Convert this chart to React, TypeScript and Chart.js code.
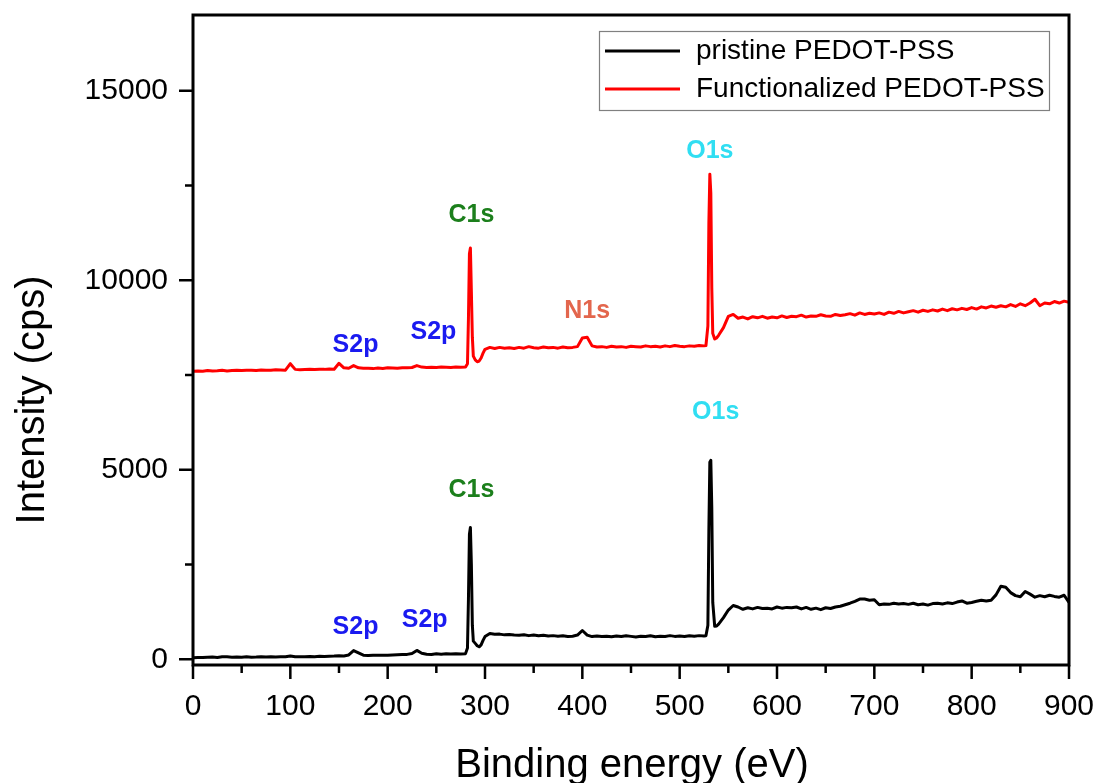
import React, { useEffect, useRef } from 'react';
import { Chart, registerables } from 'chart.js';

Chart.register(...registerables);

// Binding energy grid (eV)
const energy = [
  0, 5, 10, 15, 20, 25, 30, 35, 40, 45,
  50, 55, 60, 65, 70, 75, 80, 85, 90, 95,
  100, 105, 110, 115, 120, 125, 130, 135, 140, 145,
  150, 155, 160, 165, 170, 175, 180, 185, 190, 195,
  200, 205, 210, 215, 220, 225, 230, 235, 240, 245,
  250, 255, 260, 265, 270, 275, 280,
  282, 283, 284, 285, 286, 287, 288, 290, 292, 294, 296, 298, 300,
  305, 310, 315, 320, 325, 330, 335, 340, 345, 350,
  355, 360, 365, 370, 375, 380, 385, 390, 395, 400,
  405, 410, 415, 420, 425, 430, 435, 440, 445, 450,
  455, 460, 465, 470, 475, 480, 485, 490, 495, 500,
  505, 510, 515, 520, 525,
  527, 529, 530, 531, 532, 533, 534, 536, 538, 540,
  545, 550, 555, 560, 565, 570, 575, 580, 585, 590,
  595, 600, 605, 610, 615, 620, 625, 630, 635, 640,
  645, 650, 655, 660, 665, 670, 675, 680, 685, 690,
  695, 700, 705, 710, 715, 720, 725, 730, 735, 740,
  745, 750, 755, 760, 765, 770, 775, 780, 785, 790,
  795, 800, 805, 810, 815, 820, 825, 830, 835, 840,
  845, 850, 855, 860, 865, 870, 875, 880, 885, 890,
  895, 900,
];

// pristine PEDOT-PSS intensity (cps)
const pristine = [
  40, 50, 45, 55, 60, 50, 70, 65, 55, 60,
  55, 65, 55, 60, 70, 60, 65, 60, 70, 65,
  85, 65, 70, 65, 75, 70, 80, 75, 80, 85,
  95, 90, 115, 230, 170, 110, 100, 110, 105, 110,
  105, 115, 120, 125, 130, 155, 235, 160, 135, 130,
  145, 135, 145, 140, 150, 140, 150,
  300, 1600, 3300, 3480, 2500, 900, 480, 420, 360, 330, 380, 500, 600,
  680, 660, 665, 645, 655, 640, 635, 650, 625, 640,
  620, 635, 615, 625, 610, 620, 600, 610, 640, 760,
  640, 600, 615, 600, 610, 595, 615, 600, 620, 605,
  590, 610, 600, 620, 595, 610, 600, 625, 605, 615,
  600, 620, 610, 625, 615,
  620, 900, 3400, 5200, 5250, 4000, 1500, 870, 880, 930,
  1100, 1300, 1420, 1380, 1320, 1360, 1330, 1370, 1340, 1350,
  1330, 1380, 1350, 1370, 1360, 1380, 1330, 1370, 1320, 1350,
  1310, 1360, 1340, 1380, 1400, 1440, 1480, 1530, 1590, 1590,
  1560, 1570, 1440, 1460, 1450, 1480, 1460, 1470, 1450, 1480,
  1440, 1460, 1430, 1470, 1480, 1460, 1490, 1470, 1510, 1540,
  1480, 1500, 1530, 1560, 1540, 1560, 1700, 1930, 1900, 1760,
  1680, 1650, 1790, 1720, 1640, 1680, 1650, 1690, 1660, 1640,
  1690, 1500,
];

// Functionalized PEDOT-PSS intensity (cps)
const functionalized = [
  7600, 7610, 7600, 7620, 7610, 7615, 7625, 7610, 7620, 7630,
  7620, 7625, 7630, 7620, 7635, 7630, 7625, 7640, 7635, 7630,
  7800, 7650, 7640, 7645, 7650, 7645, 7655, 7650, 7660, 7655,
  7810, 7690, 7680, 7750, 7690, 7680, 7680, 7670, 7685, 7675,
  7690, 7685, 7680, 7695, 7690, 7700, 7750, 7710, 7700, 7705,
  7700, 7710, 7705, 7700, 7710, 7705, 7710,
  7800, 9000, 10700, 10850, 9700, 8500, 8000, 7900, 7850, 7870, 7950, 8080, 8180,
  8230, 8200, 8230, 8210, 8220, 8200, 8230, 8210, 8250, 8220,
  8210, 8240, 8220, 8230, 8210, 8240, 8220, 8230, 8250, 8480,
  8500, 8270, 8240, 8250, 8230, 8260, 8240, 8250, 8230, 8260,
  8250, 8240, 8270, 8250, 8260, 8240, 8270, 8250, 8280, 8260,
  8250, 8270, 8260, 8280, 8270,
  8280, 8800, 11500, 12800, 12300, 9800, 8600, 8450, 8480, 8550,
  8750, 9050, 9100, 9000, 9030, 8980, 9040, 9010, 9050, 9000,
  9030, 9010, 9060, 9020, 9050, 9040, 9080, 9030, 9060, 9050,
  9090, 9060, 9050, 9100, 9070, 9090, 9120, 9080, 9140, 9100,
  9130, 9110, 9140, 9100, 9160, 9130, 9180, 9140, 9170, 9200,
  9160, 9210, 9180, 9220, 9190, 9240, 9200, 9250, 9220, 9260,
  9230, 9280, 9240, 9300, 9270, 9320, 9290, 9330, 9300, 9360,
  9310, 9380, 9330, 9400, 9500, 9330, 9400, 9380, 9440, 9400,
  9450, 9420,
];

const seriesLabels = ['pristine PEDOT-PSS', 'Functionalized PEDOT-PSS'];

const xTicks = [0, 100, 200, 300, 400, 500, 600, 700, 800, 900];
const xMinorTicks = [50, 150, 250, 350, 450, 550, 650, 750, 850];
const yTicks = [0, 5000, 10000, 15000];
const yMinorTicks = [2500, 7500, 12500];

// Peak annotations (label, energy, intensity at label centre)
const peakNames = ['S2p', 'S2p', 'C1s', 'N1s', 'O1s', 'S2p', 'S2p', 'C1s', 'O1s'];
const peakEnergies = [167, 247, 286, 405, 531, 167, 238, 286, 537];
const peakIntensities = [8290, 8630, 11710, 9180, 13420, 840, 1030, 4470, 6530];

const peakColors: Record<string, string> = {
  S2p: '#1a1af0',
  C1s: '#1c7f1c',
  N1s: '#e3664d',
  O1s: '#30def2',
};

const FONT = '"Liberation Sans", Arial, sans-serif';

const overlayPlugin = {
  id: 'overlay',
  afterDatasetsDraw(chart: any) {
    const { ctx, chartArea: a, scales } = chart;
    const x = scales.x;
    const y = scales.y;
    ctx.save();
    // frame
    ctx.strokeStyle = '#000';
    ctx.lineWidth = 3;
    ctx.strokeRect(a.left, a.top, a.right - a.left, a.bottom - a.top);
    // ticks
    ctx.lineWidth = 2.5;
    ctx.beginPath();
    xTicks.forEach((v) => {
      const px = x.getPixelForValue(v);
      ctx.moveTo(px, a.bottom);
      ctx.lineTo(px, a.bottom + 14);
    });
    xMinorTicks.forEach((v) => {
      const px = x.getPixelForValue(v);
      ctx.moveTo(px, a.bottom);
      ctx.lineTo(px, a.bottom + 8);
    });
    yTicks.forEach((v) => {
      const py = y.getPixelForValue(v);
      ctx.moveTo(a.left, py);
      ctx.lineTo(a.left - 14, py);
    });
    yMinorTicks.forEach((v) => {
      const py = y.getPixelForValue(v);
      ctx.moveTo(a.left, py);
      ctx.lineTo(a.left - 8, py);
    });
    ctx.stroke();

    // peak labels
    ctx.font = `bold 25px ${FONT}`;
    ctx.textAlign = 'center';
    ctx.textBaseline = 'middle';
    peakNames.forEach((name, i) => {
      ctx.fillStyle = peakColors[name];
      ctx.fillText(name, x.getPixelForValue(peakEnergies[i]), y.getPixelForValue(peakIntensities[i]));
    });

    // legend
    const lx = 599, ly = 31, lw = 450, lh = 79;
    ctx.fillStyle = '#fff';
    ctx.fillRect(lx, ly, lw, lh);
    ctx.strokeStyle = '#808080';
    ctx.lineWidth = 1.2;
    ctx.strokeRect(lx + 0.5, ly + 0.5, lw, lh);
    ctx.font = `28px ${FONT}`;
    ctx.textAlign = 'left';
    ctx.textBaseline = 'middle';
    chart.data.datasets.forEach((ds: any, i: number) => {
      const rowY = ly + 20 + i * 38;
      ctx.strokeStyle = ds.borderColor;
      ctx.lineWidth = 3;
      ctx.beginPath();
      ctx.moveTo(lx + 6, rowY);
      ctx.lineTo(lx + 81, rowY);
      ctx.stroke();
      ctx.fillStyle = '#000';
      ctx.fillText(ds.label, lx + 97, rowY);
    });
    ctx.restore();
  },
  afterDraw(chart: any) {
    const { ctx } = chart;
    ctx.save();
    ctx.fillStyle = '#000';
    ctx.font = `40px ${FONT}`;
    ctx.textBaseline = 'alphabetic';
    ctx.textAlign = 'center';
    ctx.fillText('Binding energy (eV)', 632, 777);
    ctx.translate(44, 400);
    ctx.rotate(-Math.PI / 2);
    ctx.fillText('Intensity (cps)', 0, 0);
    ctx.restore();
  },
};

function zeroPadding(scale: any) {
  scale.paddingLeft = 0;
  scale.paddingRight = 0;
  scale.paddingTop = 0;
  scale.paddingBottom = 0;
}

export default function App() {
  const canvasRef = useRef<HTMLCanvasElement | null>(null);

  useEffect(() => {
    const canvas = canvasRef.current;
    if (!canvas) return;
    const chart = new Chart(canvas, {
      type: 'line',
      data: {
        datasets: [
          {
            label: seriesLabels[0],
            data: energy.map((e, i) => ({ x: e, y: pristine[i] })),
            borderColor: '#000000',
            backgroundColor: '#000000',
            borderWidth: 3,
            pointRadius: 0,
            tension: 0,
            borderJoinStyle: 'round',
          },
          {
            label: seriesLabels[1],
            data: energy.map((e, i) => ({ x: e, y: functionalized[i] })),
            borderColor: '#ff0000',
            backgroundColor: '#ff0000',
            borderWidth: 3,
            pointRadius: 0,
            tension: 0,
            borderJoinStyle: 'round',
          },
        ],
      },
      options: {
        animation: false,
        responsive: false,
        maintainAspectRatio: false,
        layout: { padding: { left: 0, top: 15, right: 31, bottom: 0 } },
        plugins: {
          legend: { display: false },
          tooltip: { enabled: false },
        },
        scales: {
          x: {
            type: 'linear',
            min: 0,
            max: 900,
            afterFit(scale: any) {
              scale.height = 118;
              zeroPadding(scale);
            },
            afterBuildTicks(scale: any) {
              scale.ticks = xTicks.map((v) => ({ value: v }));
            },
            grid: { display: false, drawTicks: false },
            border: { display: false },
            ticks: {
              color: '#000',
              font: { family: FONT, size: 30 },
              padding: 24,
              maxRotation: 0,
              autoSkip: false,
              callback: (v: any) => String(v),
            },
          },
          y: {
            type: 'linear',
            min: -150,
            max: 17000,
            afterFit(scale: any) {
              scale.width = 193;
              zeroPadding(scale);
            },
            afterBuildTicks(scale: any) {
              scale.ticks = yTicks.map((v) => ({ value: v }));
            },
            grid: { display: false, drawTicks: false },
            border: { display: false },
            ticks: {
              color: '#000',
              font: { family: FONT, size: 30 },
              padding: 25,
              autoSkip: false,
              callback: (v: any) => String(v),
            },
          },
        },
      },
      plugins: [overlayPlugin],
    } as any);
    return () => chart.destroy();
  }, []);

  return (
    <div style={{ position: 'fixed', left: 0, top: 0, width: 1100, height: 783, background: '#fff' }}>
      <canvas ref={canvasRef} width={1100} height={783} style={{ width: 1100, height: 783, display: 'block' }} />
    </div>
  );
}
